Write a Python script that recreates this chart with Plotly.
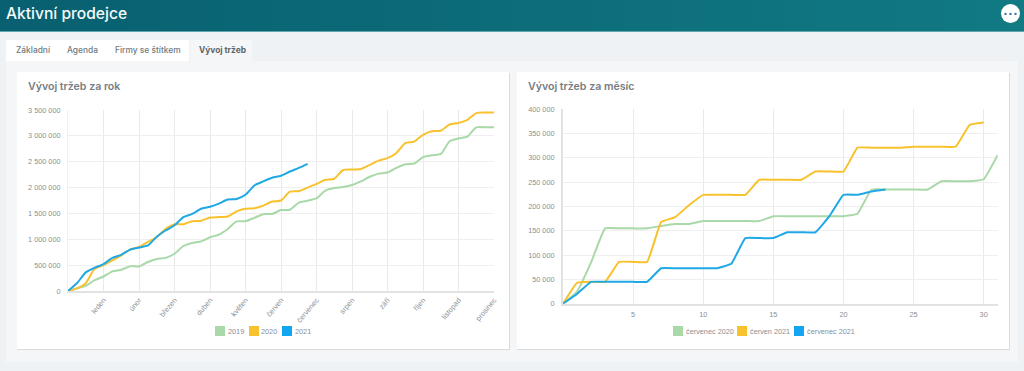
import plotly.graph_objects as go

W, H = 1024, 371

# ---- data: yearly chart ----
months = ["", "leden", "únor", "březen", "duben", "květen", "červen", "červenec",
          "srpen", "září", "říjen", "listopad", "prosinec"]
month_pos = [0, 1, 2, 3, 4, 5, 6, 7, 8, 9, 10, 11, 12]
year_y_ticks = [0, 500000, 1000000, 1500000, 2000000, 2500000, 3000000, 3500000]
year_y_labels = ["0", "500 000", "1 000 000", "1 500 000", "2 000 000", "2 500 000", "3 000 000", "3 500 000"]
year_x = [0, .25, .5, .75, 1, 1.25, 1.5, 1.75, 2, 2.25, 2.5, 2.75, 3, 3.25, 3.5, 3.75, 4, 4.25, 4.5, 4.75,
          5, 5.25, 5.5, 5.75, 6, 6.25, 6.5, 6.75, 7, 7.25, 7.5, 7.75, 8, 8.25, 8.5, 8.75, 9, 9.25, 9.5, 9.75,
          10, 10.25, 10.5, 10.75, 11, 11.25, 11.5, 11.75, 12]
y2019 = [0, 50000, 100000, 210000, 280000, 380000, 410000, 480000, 475000, 560000, 620000, 640000, 720000,
         870000, 930000, 960000, 1040000, 1090000, 1200000, 1345000, 1350000, 1415000, 1485000, 1490000,
         1565000, 1570000, 1710000, 1745000, 1795000, 1940000, 1990000, 2010000, 2050000, 2120000, 2210000,
         2270000, 2290000, 2380000, 2450000, 2465000, 2590000, 2625000, 2650000, 2895000, 2950000, 2985000,
         3165000, 3165000, 3165000]
y2020 = [0, 50000, 150000, 430000, 500000, 590000, 690000, 800000, 850000, 950000, 1040000, 1200000, 1290000,
         1290000, 1350000, 1360000, 1420000, 1430000, 1440000, 1540000, 1590000, 1600000, 1650000, 1730000,
         1750000, 1920000, 1930000, 2000000, 2070000, 2150000, 2170000, 2340000, 2350000, 2360000, 2440000,
         2520000, 2570000, 2670000, 2860000, 2890000, 3020000, 3090000, 3100000, 3220000, 3250000, 3310000,
         3440000, 3450000, 3450000]
y2021 = [0, 150000, 360000, 450000, 520000, 640000, 700000, 800000, 840000, 880000, 1050000, 1170000, 1270000,
         1430000, 1490000, 1590000, 1630000, 1690000, 1770000, 1780000, 1860000, 2040000, 2120000, 2190000,
         2230000, 2310000, 2380000, 2460000]

# ---- data: monthly chart ----
days = [0, 1, 2, 3, 4, 5, 6, 7, 8, 9, 10, 11, 12, 13, 14, 15, 16, 17, 18, 19, 20, 21, 22, 23, 24, 25, 26, 27, 28, 29, 30, 31]
day_ticks = [0, 5, 10, 15, 20, 25, 30]
day_labels = ["", "5", "10", "15", "20", "25", "30"]
month_y_ticks = [0, 50000, 100000, 150000, 200000, 250000, 300000, 350000, 400000]
month_y_labels = ["0", "50 000", "100 000", "150 000", "200 000", "250 000", "300 000", "350 000", "400 000"]
jul2020 = [0, 25000, 85000, 155000, 155000, 155000, 155000, 160000, 164000, 164000, 170000, 170000, 170000, 170000,
           170000, 180000, 180000, 180000, 180000, 180000, 180000, 185000, 235000, 235000, 235000, 235000, 235000,
           252000, 252000, 252000, 256000, 306000]
jun2021 = [0, 43000, 45000, 45000, 86000, 86000, 86000, 168000, 178000, 203000, 224000, 224000, 224000, 224000,
           255000, 255000, 255000, 255000, 272000, 272000, 272000, 321000, 321000, 321000, 321000, 323000, 323000,
           323000, 323000, 368000, 373000]
jul2021 = [0, 20000, 45000, 45000, 45000, 45000, 45000, 73000, 73000, 73000, 73000, 73000, 82000, 135000, 135000,
           135000, 147000, 147000, 147000, 180000, 224000, 224000, 231000, 235000]

GREEN, YELLOW, BLUE = "#a9d8a9", "#f8c22e", "#1fa8e6"
TICK_FONT = dict(family="Liberation Sans", size=7.3, color="#8a8f94")
GRID = "#efefef"


def px(x):
    return x / W


def py(y):
    return 1 - y / H


def rect(x0, y0, x1, y1, fill, line=None, layer="below"):
    return dict(type="rect", xref="paper", yref="paper", x0=px(x0), x1=px(x1), y0=py(y0), y1=py(y1),
                fillcolor=fill, line=dict(width=0 if line is None else 1, color=line or fill), layer=layer)


def label(x, y, text, size, color, family="Inter", anchor="left", weight=400):
    return dict(xref="paper", yref="paper", x=px(x), y=py(y), text=text, showarrow=False, xanchor=anchor,
                yanchor="middle", font=dict(family=family, size=size, color=color, weight=weight),
                borderpad=0, borderwidth=0)


fig = go.Figure()


def add(x, y, name, color, xa, ya, smooth):
    fig.add_trace(go.Scatter(x=x, y=y, name=name, mode="lines", xaxis=xa, yaxis=ya, showlegend=False,
                             line=dict(color=color, width=2, shape="spline", smoothing=smooth), hoverinfo="skip"))


add(year_x, y2019, "2019", GREEN, "x", "y", 0.6)
add(year_x, y2020, "2020", YELLOW, "x", "y", 0.6)
add(year_x[:len(y2021)], y2021, "2021", BLUE, "x", "y", 0.6)
add(days, jul2020, "červenec 2020", GREEN, "x2", "y2", 0.3)
add(days[:len(jun2021)], jun2021, "červen 2021", YELLOW, "x2", "y2", 0.3)
add(days[:len(jul2021)], jul2021, "červenec 2021", BLUE, "x2", "y2", 0.3)

shapes = [rect(0, 0, W, H, "#eef2f5")]
# header gradient made of thin strips
STRIPS = 64
for i in range(STRIPS):
    t = i / (STRIPS - 1)
    c = (int(9 + t * 8), int(96 + t * 26), int(112 + t * 18))
    shapes.append(rect(W * i / STRIPS, 0, W * (i + 1) / STRIPS + 1, 31, f"rgb{c}"))
shapes += [
    rect(0, 31, W, 32, "#5fa6b0"),
    rect(6, 61, 1018, 362, "#f5f6f8"),
    rect(6, 40, 189, 61, "#ffffff"),
    rect(190, 40, 252, 62, "#f5f6f8"),
    rect(17, 73, 510, 350, "#d9dbdd"),
    rect(517, 73, 1010, 350, "#d9dbdd"),
    rect(17, 72, 509, 349, "#ffffff"),
    rect(517, 72, 1009, 349, "#ffffff"),
    dict(type="circle", xref="paper", yref="paper", x0=px(1001), x1=px(1020), y0=py(4), y1=py(23),
         fillcolor="#ffffff", line=dict(width=0), layer="below"),
]
for dx in (1005.5, 1010.5, 1015.5):
    shapes.append(dict(type="circle", xref="paper", yref="paper", x0=px(dx - 1.2), x1=px(dx + 1.2),
                       y0=py(12.7), y1=py(15.1), fillcolor="#3f6fa8", line=dict(width=0), layer="below"))
# legends
for x0, c in ((215, GREEN), (249, YELLOW), (282, "#12a6f0"),
              (673, GREEN), (737, YELLOW), (794, "#12a6f0")):
    shapes.append(rect(x0, 326, x0 + 10, 336, c))

LEG = "#8a8f94"
annots = [
    label(6, 14, "Aktivní prodejce", 15.6, "#f2fbfb", weight=500),
    label(16, 50.5, "Základní", 8.4, "#6f7a80", weight=500),
    label(67, 50.5, "Agenda", 8.4, "#6f7a80", weight=500),
    label(115, 50.5, "Firmy se štítkem", 8.4, "#6f7a80", weight=500),
    label(199, 50.5, "Vývoj tržeb", 8.4, "#5a656b", weight=700),
    label(28, 87, "Vývoj tržeb za rok", 10.6, "#777d82", weight=600),
    label(528, 87, "Vývoj tržeb za měsíc", 10.6, "#777d82", weight=600),
    label(228, 331, "2019", 7.3, LEG, "Liberation Sans"),
    label(261, 331, "2020", 7.3, LEG, "Liberation Sans"),
    label(295, 331, "2021", 7.3, LEG, "Liberation Sans"),
    label(686, 331, "červenec 2020", 7.3, LEG, "Liberation Sans"),
    label(750, 331, "červen 2021", 7.3, LEG, "Liberation Sans"),
    label(807, 331, "červenec 2021", 7.3, LEG, "Liberation Sans"),
]

fig.update_layout(
    template="none",
    width=W, height=H, autosize=False, margin=dict(l=0, r=0, t=0, b=0),
    paper_bgcolor="#eef2f5", plot_bgcolor="rgba(0,0,0,0)", shapes=shapes, annotations=annots, showlegend=False,
    xaxis=dict(domain=[px(68), px(494)], range=[0, 12], tickmode="array", tickvals=month_pos, ticktext=months,
               automargin=False, tickangle=-50, tickfont=TICK_FONT, gridcolor="#eaeaea", gridwidth=1, showline=True,
               linecolor="#e2e2e2", linewidth=2, zeroline=False, ticks="", fixedrange=True, anchor="y"),
    yaxis=dict(domain=[py(291), py(110)], range=[0, 3500000], tickmode="array", tickvals=year_y_ticks,
               ticktext=year_y_labels, automargin=False, tickfont=TICK_FONT, gridcolor=GRID, showline=True,
               linecolor="#f0f0f0", linewidth=1, zeroline=False, ticks="outside", ticklen=5,
               tickcolor="rgba(0,0,0,0)", fixedrange=True, anchor="x"),
    xaxis2=dict(domain=[px(563), px(997.7)], range=[0, 31], tickmode="array", tickvals=day_ticks, ticktext=day_labels,
                automargin=False, tickangle=0, tickfont=TICK_FONT, gridcolor="#eaeaea", showline=True,
                linecolor="#e2e2e2", linewidth=2, zeroline=False, ticks="outside", ticklen=3,
                tickcolor="rgba(0,0,0,0)", fixedrange=True, anchor="y2"),
    yaxis2=dict(domain=[py(303.7), py(109.3)], range=[0, 400000], tickmode="array", tickvals=month_y_ticks,
                ticktext=month_y_labels, automargin=False, tickfont=TICK_FONT, gridcolor=GRID, showline=True,
                linecolor="#e2e2e2", linewidth=2, zeroline=False, ticks="outside", ticklen=5,
                tickcolor="rgba(0,0,0,0)", fixedrange=True, anchor="x2"),
)

fig.write_html("out.html", config=dict(displayModeBar=False),
               post_script="document.body.style.margin='0';document.documentElement.style.overflow='hidden';")
